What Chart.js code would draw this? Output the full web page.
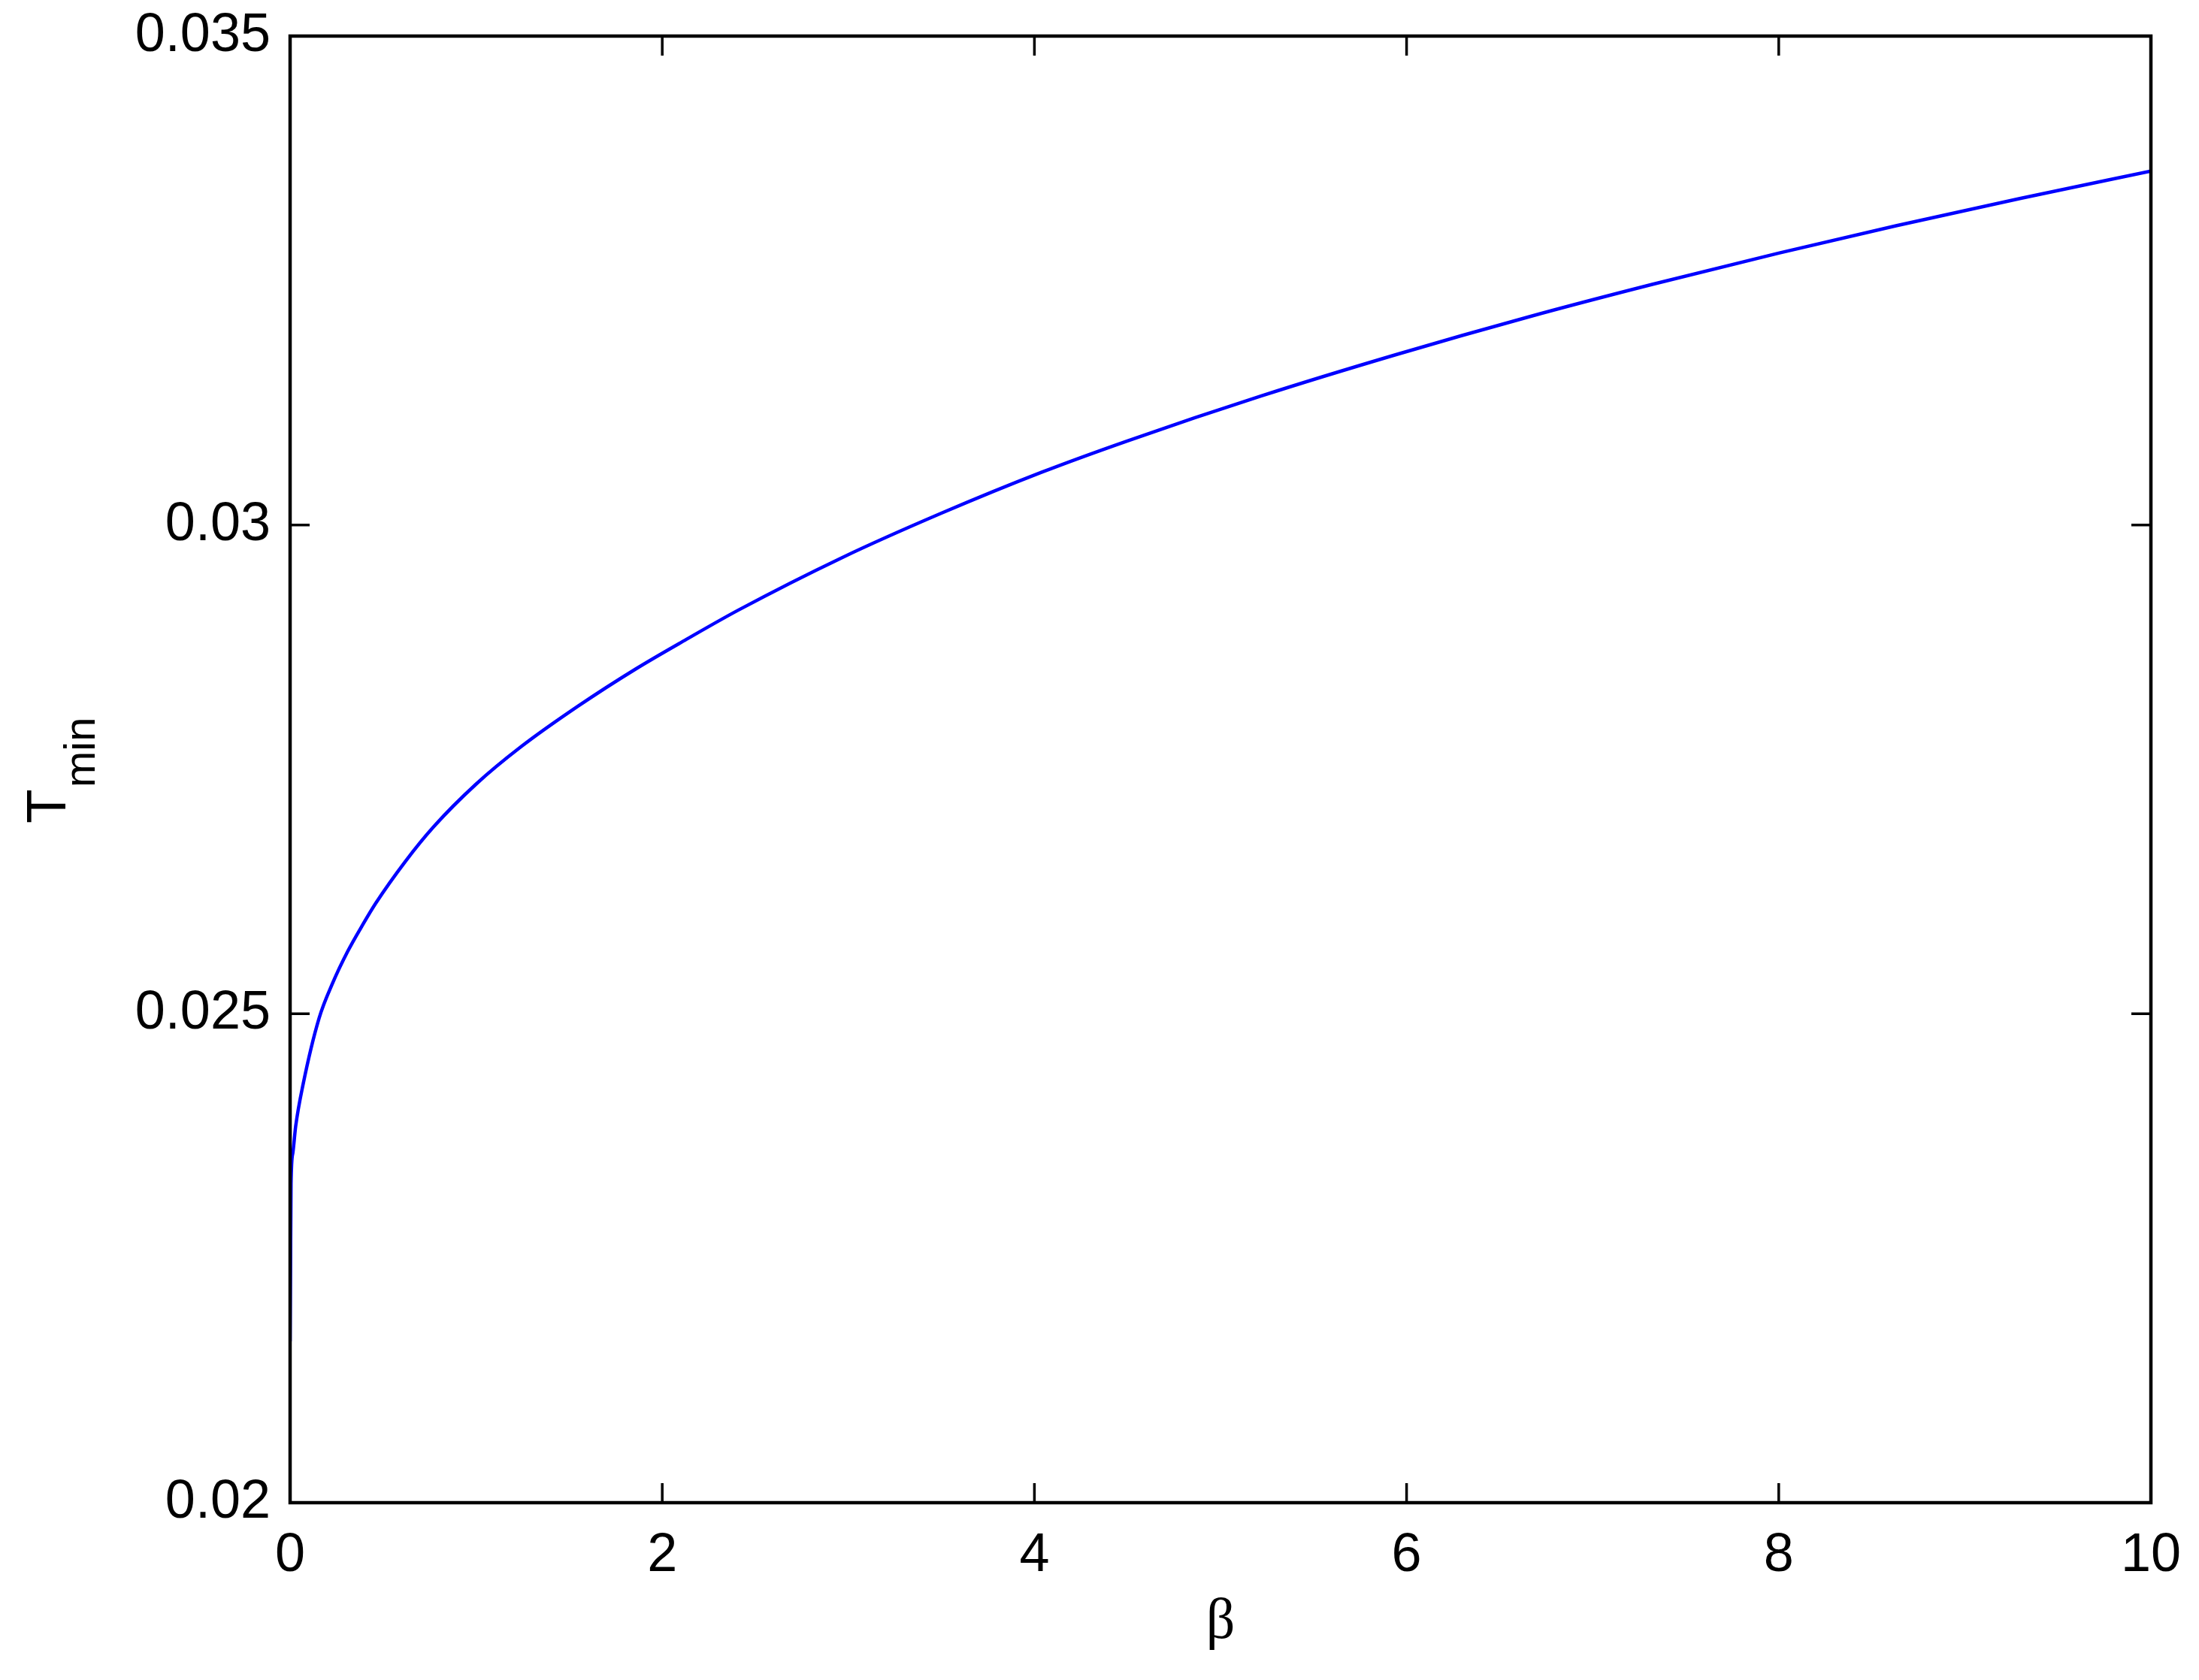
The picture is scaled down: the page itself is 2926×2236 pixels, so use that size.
<!DOCTYPE html>
<html>
<head>
<meta charset="utf-8">
<script src="https://cdn.jsdelivr.net/npm/chart.js@4/dist/chart.umd.min.js"></script>
<style>
  body { margin: 0; background: #fff; }
  canvas { display: block; }
</style>
</head>
<body>
<canvas id="myChart" width="2926" height="2236"></canvas>
<script>
// values
var beta = [0, 0.002, 0.005, 0.015, 0.03, 0.07, 0.155, 0.23, 0.31, 0.39, 0.46, 0.62, 0.77, 1.0, 1.24, 1.55, 1.86, 2.13, 2.41, 2.96, 3.5, 4.04, 4.5, 5.22, 5.94, 6.66, 7.32, 8.0, 8.63, 9.3, 10];
var tmin = [0.02165, 0.0223, 0.02326, 0.02358, 0.02385, 0.02428, 0.02495, 0.02532, 0.02564, 0.02591, 0.02613, 0.02656, 0.02691, 0.02735, 0.02773, 0.02815, 0.02853, 0.02883, 0.02913, 0.02966, 0.03012, 0.03054, 0.03086, 0.03132, 0.03174, 0.03213, 0.03246, 0.03278, 0.03306, 0.03334, 0.03362];
var xTicks = [0, 2, 4, 6, 8, 10];
var yTicks = [0.02, 0.025, 0.03, 0.035];

var points = [];
for (var i = 0; i < beta.length; i++) {
  points.push({ x: beta[i], y: tmin[i] });
}

var tickFont = { family: 'Liberation Sans, Arial, Helvetica, sans-serif', size: 72 };

// box, inward ticks on all four sides, axis titles
var boxPlugin = {
  id: 'box',
  afterDraw: function(chart) {
    var ctx = chart.ctx;
    var a = chart.chartArea;
    var xs = chart.scales.x, ys = chart.scales.y;
    var tl = 26;
    ctx.save();
    ctx.strokeStyle = '#000';
    ctx.lineWidth = 3.5;
    ctx.beginPath();
    for (var i = 0; i < xTicks.length; i++) {
      var px = xs.getPixelForValue(xTicks[i]);
      ctx.moveTo(px, a.bottom); ctx.lineTo(px, a.bottom - tl);
      ctx.moveTo(px, a.top); ctx.lineTo(px, a.top + tl);
    }
    for (var j = 0; j < yTicks.length; j++) {
      var py = ys.getPixelForValue(yTicks[j]);
      ctx.moveTo(a.left, py); ctx.lineTo(a.left + tl, py);
      ctx.moveTo(a.right, py); ctx.lineTo(a.right - tl, py);
    }
    ctx.stroke();
    ctx.lineWidth = 4.5;
    ctx.strokeRect(a.left, a.top, a.right - a.left, a.bottom - a.top);

    ctx.fillStyle = '#000';
    // x title
    ctx.font = '76px "Liberation Serif", "Times New Roman", serif';
    ctx.textAlign = 'center';
    ctx.textBaseline = 'alphabetic';
    ctx.fillText('β', (a.left + a.right) / 2, 2180);

    // y title, T with subscript min
    ctx.translate(87, 1096);
    ctx.rotate(-Math.PI / 2);
    ctx.textAlign = 'left';
    ctx.font = '75px "Liberation Sans", Arial, sans-serif';
    ctx.fillText('T', 0, 0);
    ctx.font = '58px "Liberation Sans", Arial, sans-serif';
    ctx.fillText('min', 48, 39);
    ctx.restore();
  }
};

var ctx = document.getElementById('myChart').getContext('2d');
var myChart = new Chart(ctx, {
  type: 'line',
  data: {
    datasets: [{
      label: 'Tmin',
      data: points,
      borderColor: 'rgb(0, 0, 255)',
      borderWidth: 4.5,
      pointRadius: 0,
      fill: false,
      cubicInterpolationMode: 'monotone'
    }]
  },
  options: {
    responsive: false,
    animation: false,
    layout: { padding: { left: 0, top: 48, right: 64, bottom: 0 } },
    plugins: {
      legend: { display: false },
      tooltip: { enabled: false }
    },
    scales: {
      x: {
        type: 'linear',
        min: 0,
        max: 10,
        grid: { display: false, drawTicks: false },
        border: { display: false },
        ticks: {
          stepSize: 2,
          color: '#000',
          font: tickFont,
          padding: 28,
          maxRotation: 0
        },
        afterFit: function(scale) {
          scale.height = 236;
          scale.paddingLeft = 0;
          scale.paddingRight = 0;
        }
      },
      y: {
        min: 0.02,
        max: 0.035,
        grid: { display: false, drawTicks: false },
        border: { display: false },
        ticks: {
          stepSize: 0.005,
          color: '#000',
          font: tickFont,
          padding: 26,
          callback: function(v) { return String(+v.toFixed(3)); }
        },
        afterFit: function(scale) {
          scale.width = 386;
          scale.paddingTop = 0;
          scale.paddingBottom = 0;
        }
      }
    }
  },
  plugins: [boxPlugin]
});
</script>
</body>
</html>
